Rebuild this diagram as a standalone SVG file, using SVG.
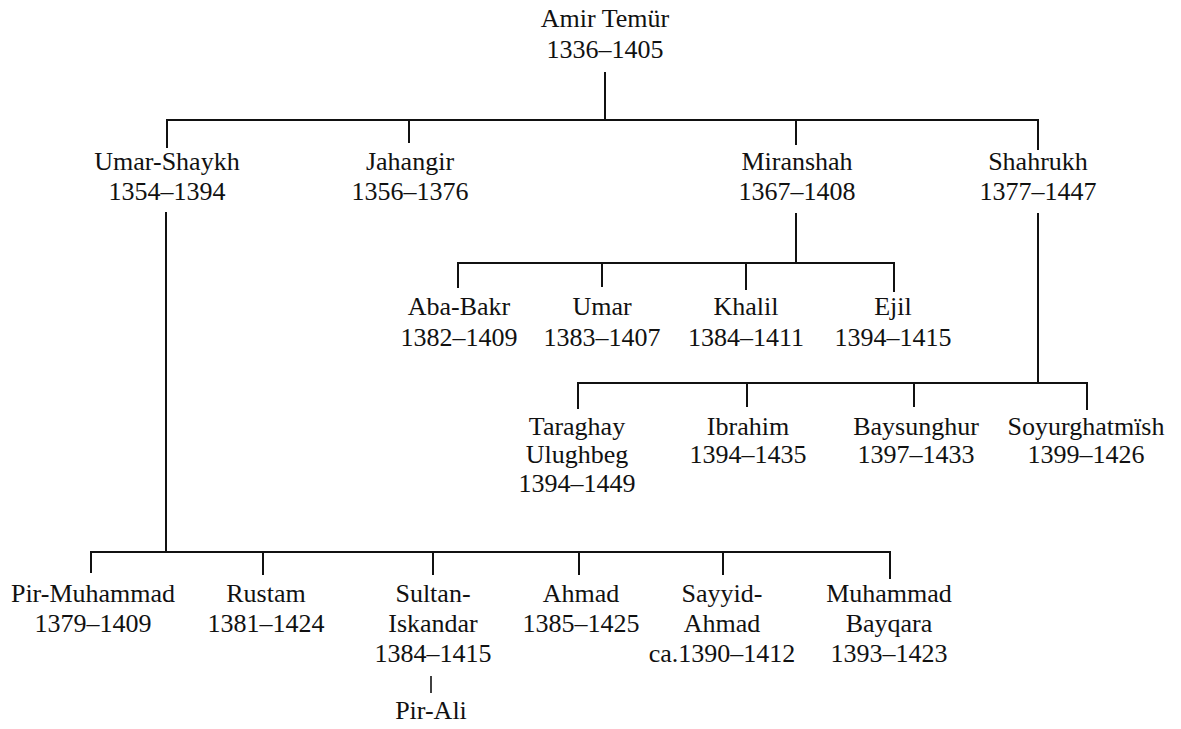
<svg xmlns="http://www.w3.org/2000/svg" width="1181" height="729" viewBox="0 0 1181 729">
<style>
text{font-family:"Liberation Serif","Times New Roman",serif;font-size:26px;fill:#111;text-anchor:middle}
.c path{fill:none;stroke:#111;stroke-width:2}
</style>
<rect width="1181" height="729" fill="#fff"/>
<g class="c" id="connectors">
<path d="M605 72V120"/>
<path d="M167 148V120H1038V150"/>
<path d="M409 120V143"/>
<path d="M796 120V145"/>
<path d="M796 213V263"/>
<path d="M458 288V263H894V292"/>
<path d="M602 263V287"/>
<path d="M746 263V290"/>
<path d="M1038 213V383"/>
<path d="M578 409V383H1087V410"/>
<path d="M747 383V407"/>
<path d="M914 383V407"/>
<path d="M166 212V552"/>
<path d="M91 573V552H890V579"/>
<path d="M263 552V575"/>
<path d="M433 552V575"/>
<path d="M579 552V575"/>
<path d="M723 552V575"/>
<path d="M431 676V693" style="stroke-width:1.6"/>
</g>
<g id="amir-temur"><text x="605" y="27">Amir Temür</text><text x="605" y="58">1336–1405</text></g>
<g id="umar-shaykh"><text x="167" y="170">Umar-Shaykh</text><text x="167" y="200">1354–1394</text></g>
<g id="jahangir"><text x="410" y="170">Jahangir</text><text x="410" y="200">1356–1376</text></g>
<g id="miranshah"><text x="797" y="170">Miranshah</text><text x="797" y="200">1367–1408</text></g>
<g id="shahrukh"><text x="1038" y="170">Shahrukh</text><text x="1038" y="200">1377–1447</text></g>
<g id="aba-bakr"><text x="459" y="315">Aba-Bakr</text><text x="459" y="346">1382–1409</text></g>
<g id="umar"><text x="602" y="315">Umar</text><text x="602" y="346">1383–1407</text></g>
<g id="khalil"><text x="746" y="315">Khalil</text><text x="746" y="346">1384–1411</text></g>
<g id="ejil"><text x="893" y="315">Ejil</text><text x="893" y="346">1394–1415</text></g>
<g id="taraghay-ulughbeg"><text x="577" y="435">Taraghay</text><text x="577" y="463">Ulughbeg</text><text x="577" y="492">1394–1449</text></g>
<g id="ibrahim"><text x="748" y="435">Ibrahim</text><text x="748" y="463">1394–1435</text></g>
<g id="baysunghur"><text x="916" y="435">Baysunghur</text><text x="916" y="463">1397–1433</text></g>
<g id="soyurghatmish"><text x="1086" y="435">Soyurghatmïsh</text><text x="1086" y="463">1399–1426</text></g>
<g id="pir-muhammad"><text x="93" y="602">Pir-Muhammad</text><text x="93" y="632">1379–1409</text></g>
<g id="rustam"><text x="266" y="602">Rustam</text><text x="266" y="632">1381–1424</text></g>
<g id="sultan-iskandar"><text x="433" y="602">Sultan-</text><text x="433" y="632">Iskandar</text><text x="433" y="662">1384–1415</text></g>
<g id="pir-ali"><text x="431" y="719">Pir-Ali</text></g>
<g id="ahmad"><text x="581" y="602">Ahmad</text><text x="581" y="632">1385–1425</text></g>
<g id="sayyid-ahmad"><text x="722" y="602">Sayyid-</text><text x="722" y="632">Ahmad</text><text x="722" y="662">ca.1390–1412</text></g>
<g id="muhammad-bayqara"><text x="889" y="602">Muhammad</text><text x="889" y="632">Bayqara</text><text x="889" y="662">1393–1423</text></g>
</svg>
